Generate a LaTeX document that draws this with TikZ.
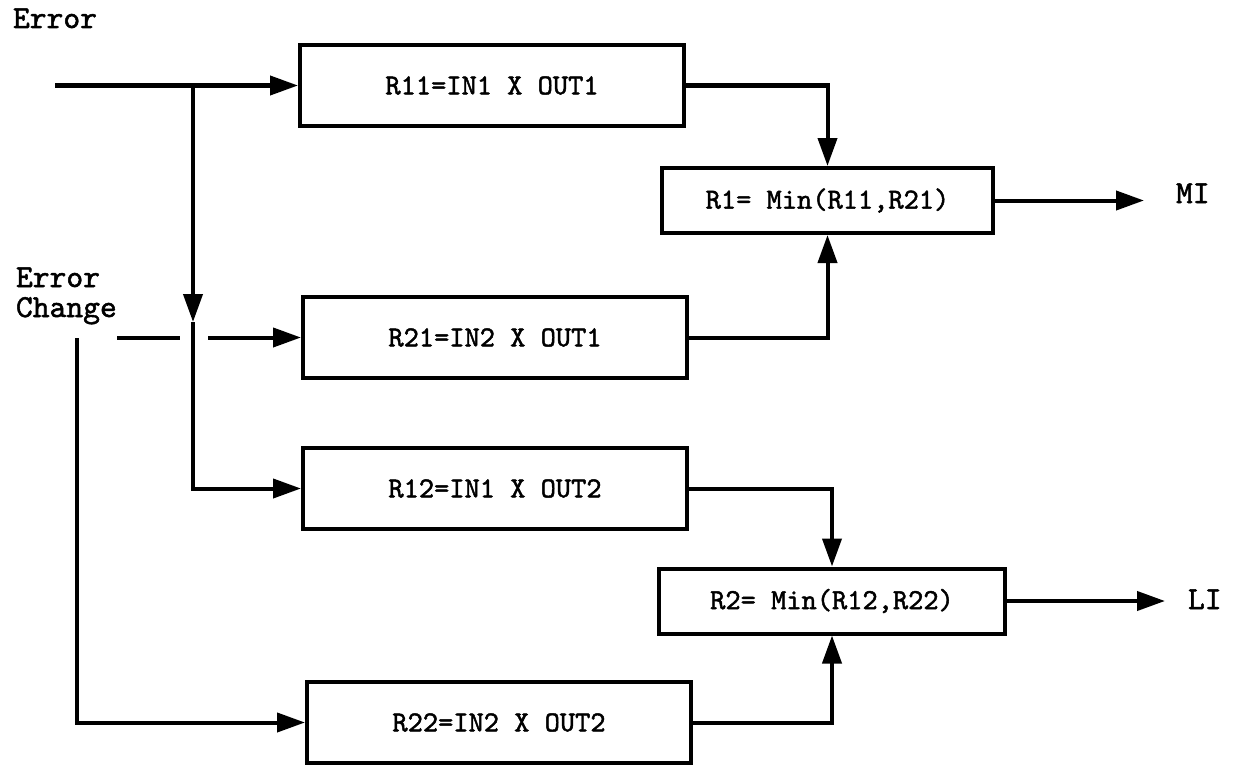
\documentclass[tikz,border=0pt]{standalone}
\usepackage{fontspec}
\newfontfamily\diagfont{lmmono10-regular.otf}[FakeBold=1.6]
\usetikzlibrary{arrows.meta}
\begin{document}
\begin{tikzpicture}[x=1pt,y=-1pt,
  line width=4pt,
  block/.style={draw, line width=4pt, minimum width=384pt, minimum height=81pt,
    inner sep=0pt, font=\diagfont\fontsize{29}{32}\selectfont},
  minblock/.style={draw, line width=4pt, minimum height=65pt,
    inner sep=0pt, font=\diagfont\fontsize{29}{32}\selectfont},
  lbl/.style={inner sep=0pt, anchor=base west, font=\diagfont\fontsize{32}{32}\selectfont},
  arr/.style={-{Triangle[length=28pt,width=19pt]}}]

\useasboundingbox (0,0) rectangle (1253,768);

% product blocks
\node[block] (R11) at (492,85.5)  {R11=IN1 X OUT1};
\node[block] (R21) at (495,337.5) {R21=IN2 X OUT1};
\node[block] (R12) at (495,488.5) {R12=IN1 X OUT2};
\node[block] (R22) at (499,722.5) {R22=IN2 X OUT2};

% minimum blocks
\node[minblock, minimum width=331pt] (R1) at (827.5,200.5) {R1= Min(R11,R21)};
\node[minblock, minimum width=346pt] (R2) at (832,601)     {R2= Min(R12,R22)};

% input and output labels
\node[lbl] (err)  at (11,28)  {Error};
\node[lbl] (chg1) at (14,287) {Error};
\node[lbl] (chg2) at (14,317) {Change};
\node[lbl] (MI) at (1174,203) {MI};
\node[lbl] (LI) at (1186,609) {LI};

% Error input and its branch
\coordinate (ein) at (55,85.5);
\coordinate (br)  at (193,85.5);
\coordinate (bmid) at (193,322);
\draw[arr] (ein) -- (R11.west);
\draw[arr] (br) -- (bmid);
\draw[arr] (bmid) -- (br |- R12.west) -- (R12.west);

% Error Change input, broken where it crosses the branch
\coordinate (c0) at (117,337.5);
\coordinate (c1) at (180,337.5);
\coordinate (c2) at (208,337.5);
\draw (c0) -- (c1);
\draw[arr] (c2) -- (R21.west);
\coordinate (cv) at (77,338);
\draw[arr] (cv) -- (cv |- R22.west) -- (R22.west);

% into the minimum blocks
\draw[arr] (R11.east) -| (R1.north);
\draw[arr] (R21.east) -| (R1.south);
\draw[arr] (R12.east) -| (R2.north);
\draw[arr] (R22.east) -| (R2.south);

% outputs
\draw[arr] (R1.east) -- ([xshift=-30pt]R1.east -| MI.west);
\draw[arr] (R2.east) -- ([xshift=-21pt]R2.east -| LI.west);
\end{tikzpicture}
\end{document}
